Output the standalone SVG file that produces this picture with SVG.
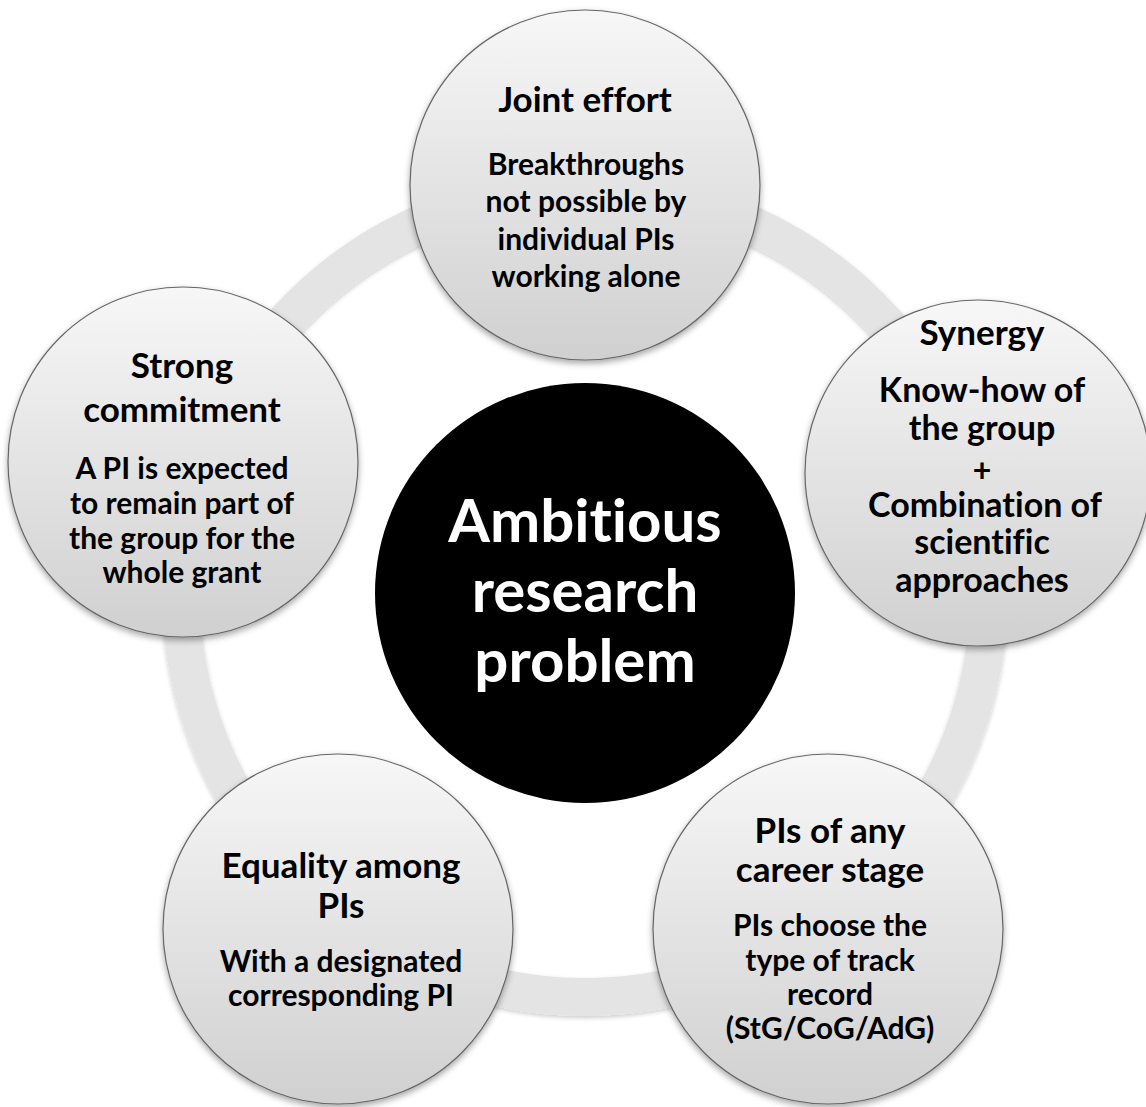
<svg xmlns="http://www.w3.org/2000/svg" width="1146" height="1107" viewBox="0 0 1146 1107">
  <defs>
    <linearGradient id="gBubble" x1="0" y1="0" x2="0" y2="1">
      <stop offset="0" stop-color="#f7f7f7"/>
      <stop offset="1" stop-color="#d0d0d0"/>
    </linearGradient>
    <filter id="shadow" x="-20%" y="-20%" width="140%" height="140%">
      <feDropShadow dx="0" dy="3" stdDeviation="3" flood-color="#000" flood-opacity="0.35"/>
    </filter>
    <filter id="ringShadow" x="-10%" y="-10%" width="120%" height="120%">
      <feDropShadow dx="0" dy="2" stdDeviation="2" flood-color="#000" flood-opacity="0.2"/>
    </filter>
  </defs>
  <style>
    .bubble { fill: url(#gBubble); stroke: #666; stroke-width: 1.2; filter: url(#shadow); }
    .core { fill: #000; }
    text { font-family: Lato, "Open Sans", "Liberation Sans", sans-serif; font-weight: bold; text-anchor: middle; fill: #000; font-variant-ligatures: none; font-feature-settings: "liga" 0, "clig" 0; }
    .h { font-size: 35px; }
    .b { font-size: 30px; }
    .bl { font-size: 34px; }
    .plus { font-size: 32px; }
    .c { font-size: 60px; fill: #fff; }
  </style>
  <rect width="1146" height="1107" fill="#fff"/>
  <g id="connectors">
    <circle cx="585" cy="593" r="404" fill="none" stroke="#e4e4e4" stroke-width="38" filter="url(#ringShadow)"/>
  </g>
  <g id="center">
    <circle class="core" cx="585" cy="593" r="210"/>
    <text class="c" x="585" y="542">Ambitious</text>
    <text class="c" x="585" y="612">research</text>
    <text class="c" x="585" y="682">problem</text>
  </g>
  <g id="joint-effort">
    <circle class="bubble" cx="585" cy="185" r="175"/>
    <text class="h" x="585" y="112">Joint effort</text>
    <text class="b" x="586" y="175">Breakthroughs</text>
    <text class="b" x="586" y="212">not possible by</text>
    <text class="b" x="586" y="250">individual PIs</text>
    <text class="b" x="586" y="287">working alone</text>
  </g>
  <g id="synergy">
    <circle class="bubble" cx="978" cy="473" r="173"/>
    <text class="h" x="982" y="345">Synergy</text>
    <text class="bl" x="982" y="402">Know-how of</text>
    <text class="bl" x="982" y="440">the group</text>
    <text class="plus" x="982" y="482">+</text>
    <text class="bl" x="985" y="517">Combination of</text>
    <text class="bl" x="982" y="554">scientific</text>
    <text class="bl" x="982" y="592">approaches</text>
  </g>
  <g id="career-stage">
    <circle class="bubble" cx="828" cy="929" r="175"/>
    <text class="h" x="830" y="843">PIs of any</text>
    <text class="h" x="830" y="882">career stage</text>
    <text class="b" x="830" y="936">PIs choose the</text>
    <text class="b" x="830" y="971">type of track</text>
    <text class="b" x="830" y="1005">record</text>
    <text class="b" x="830" y="1039">(StG/CoG/AdG)</text>
  </g>
  <g id="equality">
    <circle class="bubble" cx="338" cy="929" r="175"/>
    <text class="h" x="341" y="878">Equality among</text>
    <text class="h" x="341" y="918">PIs</text>
    <text class="b" x="341" y="972">With a designated</text>
    <text class="b" x="341" y="1006">corresponding PI</text>
  </g>
  <g id="commitment">
    <circle class="bubble" cx="183" cy="462" r="175"/>
    <text class="h" x="182" y="378">Strong</text>
    <text class="h" x="182" y="422">commitment</text>
    <text class="b" x="182" y="479">A PI is expected</text>
    <text class="b" x="182" y="514">to remain part of</text>
    <text class="b" x="182" y="549">the group for the</text>
    <text class="b" x="182" y="583">whole grant</text>
  </g>
</svg>
